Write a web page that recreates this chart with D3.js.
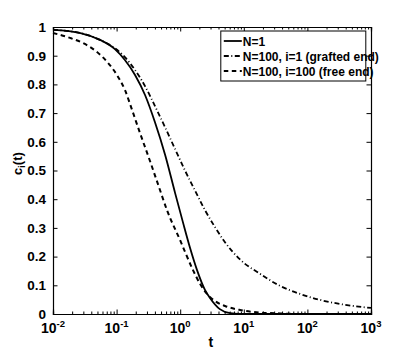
<!DOCTYPE html>
<html>
<head>
<meta charset="utf-8">
<script src="https://cdn.jsdelivr.net/npm/d3@7"></script>
<style>
body { margin: 0; background: #fff; }
svg text { font-family: "Liberation Sans Narrow", "Arial Narrow", Arial, sans-serif; font-weight: bold; fill: #000; }
.axis path, .axis line { stroke: #000; }
</style>
</head>
<body>
<div class="chart"></div>
<script>
var margin = {top: 27, right: 38, bottom: 40, left: 53},
    width = 409 - margin.left - margin.right,
    height = 354 - margin.top - margin.bottom;

// data
var xDecades = [0.01, 0.1, 1, 10, 100, 1000];
var xExponents = ["-2", "-1", "0", "1", "2", "3"];
var yTicks = [0, 0.1, 0.2, 0.3, 0.4, 0.5, 0.6, 0.7, 0.8, 0.9, 1];
var yTickLabels = ["0", "0.1", "0.2", "0.3", "0.4", "0.5", "0.6", "0.7", "0.8", "0.9", "1"];

var seriesNames = ["N=1", "N=100, i=1 (grafted end)", "N=100, i=100 (free end)"];

var tN1 = [0.01, 0.027, 0.055, 0.094, 0.135, 0.195, 0.28, 0.4, 0.58, 0.83, 1.1, 1.43, 1.84, 2.45, 2.94, 4.2, 6.1, 10.4, 1000];
var cN1 = [0.99, 0.979, 0.955, 0.923, 0.885, 0.833, 0.763, 0.669, 0.554, 0.422, 0.321, 0.23, 0.153, 0.084, 0.056, 0.017, 0.003, 0, 0];

var tGrafted = [0.01, 0.027, 0.055, 0.094, 0.135, 0.195, 0.28, 0.4, 0.58, 0.83, 1.19, 1.71, 2.45, 3.52, 5.06, 8.71, 18, 37.1, 76.5, 158, 326, 1000];
var cGrafted = [0.99, 0.979, 0.955, 0.926, 0.895, 0.85, 0.794, 0.725, 0.65, 0.575, 0.5, 0.43, 0.362, 0.303, 0.25, 0.19, 0.14, 0.098, 0.07, 0.049, 0.035, 0.021];

var tFree = [0.01, 0.0185, 0.0296, 0.0492, 0.0733, 0.101, 0.1355, 0.175, 0.233, 0.335, 0.481, 0.619, 0.993, 1.59, 2.05, 2.64, 3.52, 5.06, 8.71, 18, 37.1, 76.5, 1000];
var cFree = [0.979, 0.962, 0.944, 0.913, 0.875, 0.833, 0.78, 0.711, 0.631, 0.533, 0.432, 0.362, 0.258, 0.153, 0.105, 0.07, 0.045, 0.028, 0.014, 0.005, 0.002, 0, 0];

// set the ranges
var x = d3.scaleLog().domain([0.01, 1000]).range([0, width]);
var y = d3.scaleLinear().domain([0, 1]).range([height, 0]);

var svg = d3.select(".chart").append("svg")
    .attr("width", width + margin.left + margin.right)
    .attr("height", height + margin.top + margin.bottom)
    .append("g")
    .attr("transform", "translate(" + margin.left + "," + margin.top + ")");

// minor ticks on the log axis (bottom and top)
var minorTicks = x.ticks().filter(function(d){ return xDecades.indexOf(d) < 0; });

svg.append("g").attr("class", "axis")
    .attr("transform", "translate(0," + height + ")")
    .call(d3.axisBottom(x).tickValues(minorTicks).tickSize(-2.5).tickFormat(""));
svg.append("g").attr("class", "axis")
    .call(d3.axisTop(x).tickValues(minorTicks).tickSize(-2.5).tickFormat(""));

// major x ticks
svg.append("g").attr("class", "axis")
    .attr("transform", "translate(0," + height + ")")
    .call(d3.axisBottom(x).tickValues(xDecades).tickSize(-4.5).tickFormat(""));
svg.append("g").attr("class", "axis")
    .call(d3.axisTop(x).tickValues(xDecades).tickSize(-4.5).tickFormat(""));

// 10^n labels
xDecades.forEach(function(d, i){
    var t = svg.append("text")
        .attr("x", x(d))
        .attr("y", height + 19)
        .attr("text-anchor", "middle")
        .style("font-size", "14px");
    t.append("tspan").text("10");
    t.append("tspan").text(xExponents[i])
        .attr("dy", -6)
        .style("font-size", "9.5px");
});

// y axis, left with labels and right without
svg.append("g").attr("class", "axis")
    .call(d3.axisLeft(y).tickValues(yTicks).tickSize(-4.5).tickPadding(7)
        .tickFormat(function(d, i){ return yTickLabels[i]; }))
    .selectAll("text").style("font-size", "13.5px");
svg.append("g").attr("class", "axis")
    .attr("transform", "translate(" + width + ",0)")
    .call(d3.axisRight(y).tickValues(yTicks).tickSize(-4.5).tickFormat(""));

svg.selectAll(".axis .domain").attr("stroke-width", 1.2);

// axis titles
svg.append("text")
    .text("t")
    .attr("text-anchor", "middle")
    .style("font-size", "14px")
    .attr("transform", "translate(" + (x(10) - 33) + "," + (height + 33) + ")");

var yl = svg.append("text")
    .attr("text-anchor", "middle")
    .style("font-size", "13px")
    .attr("transform", "translate(-31," + (y(0.5) - 7) + ") rotate(-90)");
yl.append("tspan").text("c");
yl.append("tspan").text("i").attr("dy", 3).style("font-size", "9px");
yl.append("tspan").text("(t)").attr("dy", -3);

// lines
var line = d3.line()
    .curve(d3.curveMonotoneX)
    .x(function(d){ return x(d[0]); })
    .y(function(d){ return y(d[1]); });

var series = [
    {t: tN1, c: cN1, dash: null, w: 1.8},
    {t: tGrafted, c: cGrafted, dash: "5,2.5,1,2.5", w: 1.8},
    {t: tFree, c: cFree, dash: "4.5,3.5", w: 2}
];

series.forEach(function(s){
    svg.append("path")
        .attr("d", line(d3.zip(s.t, s.c)))
        .attr("fill", "none")
        .attr("stroke", "#000")
        .attr("stroke-width", s.w)
        .attr("stroke-dasharray", s.dash);
});

// legend
var lg = svg.append("g").attr("transform", "translate(" + (x(10) - 23) + ",4)");
lg.append("rect")
    .attr("width", 145).attr("height", 50)
    .attr("fill", "#fff").attr("stroke", "#000").attr("stroke-width", 1);
seriesNames.forEach(function(name, i){
    var yy = 10 + i * 15;
    lg.append("line")
        .attr("x1", 3).attr("x2", 21).attr("y1", yy).attr("y2", yy)
        .attr("stroke", "#000").attr("stroke-width", series[i].w)
        .attr("stroke-dasharray", series[i].dash);
    lg.append("text")
        .text(name)
        .attr("x", 22).attr("y", yy + 4.5)
        .style("font-size", "12px");
});
</script>
</body>
</html>
